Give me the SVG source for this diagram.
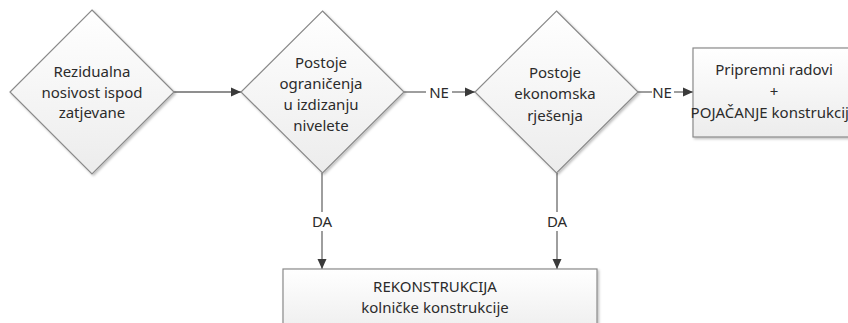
<svg xmlns="http://www.w3.org/2000/svg" width="848" height="323" viewBox="0 0 848 323">
  <defs>
    <linearGradient id="g" x1="0" y1="0" x2="0" y2="1">
      <stop offset="0" stop-color="#ffffff"/>
      <stop offset="1" stop-color="#ececec"/>
    </linearGradient>
    <filter id="sh" x="-10%" y="-10%" width="130%" height="130%">
      <feDropShadow dx="1.5" dy="1.5" stdDeviation="1.2" flood-color="#000" flood-opacity="0.25"/>
    </filter>
    <marker id="ah" viewBox="0 0 10 10" refX="10" refY="5" markerWidth="10" markerHeight="10" markerUnits="userSpaceOnUse" orient="auto">
      <path d="M0,0.5 L10,5 L0,9.5 Z" fill="#3a3a3a"/>
    </marker>
  </defs>
  <style>
    .shape { fill: url(#g); stroke: #8a8a8a; stroke-width: 1.2; filter: url(#sh); }
    .lbl { font-family: "Noto Sans", "Open Sans", sans-serif; font-size: 15px; fill: #2b2b2b; text-anchor: middle; }
    .conn { stroke: #6a6a6a; stroke-width: 1.3; fill: none; }
  </style>

  <g id="connectors">
    <line class="conn" x1="174" y1="92" x2="241" y2="92" marker-end="url(#ah)"/>
    <line class="conn" x1="404" y1="92" x2="426" y2="92"/>
    <text class="lbl" x="439" y="97.5">NE</text>
    <line class="conn" x1="452" y1="92" x2="475" y2="92" marker-end="url(#ah)"/>
    <line class="conn" x1="638" y1="92" x2="652" y2="92"/>
    <text class="lbl" x="662" y="97.5">NE</text>
    <line class="conn" x1="674" y1="92" x2="693" y2="92" marker-end="url(#ah)"/>
    <line class="conn" x1="322" y1="173" x2="322" y2="212"/>
    <text class="lbl" x="322" y="226.5">DA</text>
    <line class="conn" x1="322" y1="231" x2="322" y2="269" marker-end="url(#ah)"/>
    <line class="conn" x1="557" y1="173" x2="557" y2="212"/>
    <text class="lbl" x="557" y="226.5">DA</text>
    <line class="conn" x1="557" y1="231" x2="557" y2="269" marker-end="url(#ah)"/>
  </g>

  <g id="node-rezidualna">
    <polygon class="shape" points="92,10 174,92 92,174 10,92"/>
    <text class="lbl" x="92" y="77">Rezidualna</text>
    <text class="lbl" x="92" y="97.5">nosivost ispod</text>
    <text class="lbl" x="92" y="118">zatjevane</text>
  </g>

  <g id="node-ogranicenja">
    <polygon class="shape" points="322.5,11 404,92 322.5,173 241,92"/>
    <text class="lbl" x="321" y="68">Postoje</text>
    <text class="lbl" x="321" y="88.5">ograničenja</text>
    <text class="lbl" x="321" y="110">u izdizanju</text>
    <text class="lbl" x="321" y="131">nivelete</text>
  </g>

  <g id="node-ekonomska">
    <polygon class="shape" points="556.5,11 638,92 556.5,173 475,92"/>
    <text class="lbl" x="555" y="78">Postoje</text>
    <text class="lbl" x="555" y="99">ekonomska</text>
    <text class="lbl" x="555" y="121">rješenja</text>
  </g>

  <g id="node-pojacanje">
    <rect class="shape" x="693" y="48" width="162" height="89"/>
    <text class="lbl" x="774" y="75">Pripremni radovi</text>
    <text class="lbl" x="774" y="97">+</text>
    <text class="lbl" x="774" y="117.5">POJAČANJE konstrukcije</text>
  </g>

  <g id="node-rekonstrukcija">
    <rect class="shape" x="283" y="269" width="314" height="70"/>
    <text class="lbl" x="435" y="292">REKONSTRUKCIJA</text>
    <text class="lbl" x="435" y="312.5">kolničke konstrukcije</text>
  </g>
</svg>
